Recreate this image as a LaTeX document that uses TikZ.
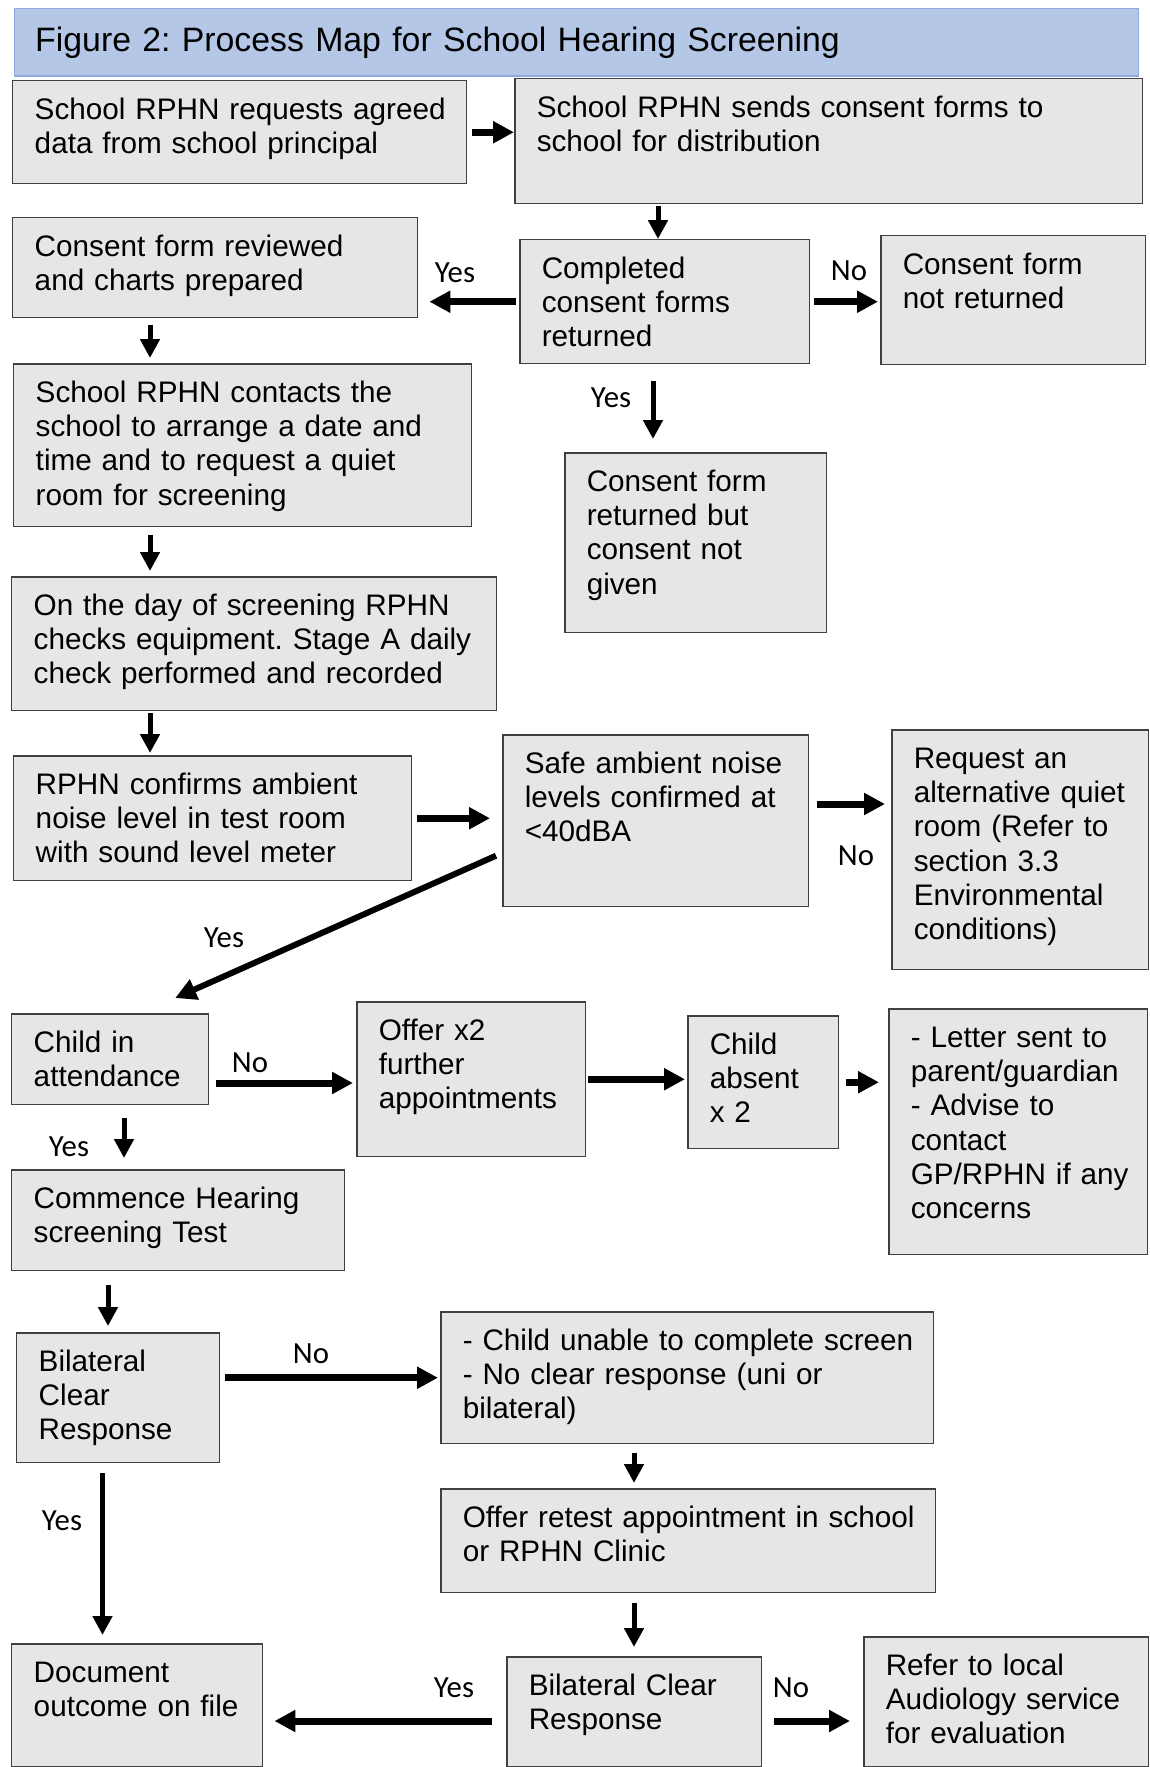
\documentclass[tikz,border=0pt]{standalone}
\usepackage{fontspec}
\setmainfont{Liberation Sans}
\newfontfamily\lblfont{Carlito}
\usetikzlibrary{arrows.meta}
\definecolor{titlefill}{HTML}{B4C7E7}
\definecolor{titleline}{HTML}{8FAADC}
\definecolor{boxfill}{HTML}{E6E6E6}
\definecolor{boxline}{HTML}{404040}
\frenchspacing

\begin{document}
\begin{tikzpicture}[
  x=0.02cm, y=-0.02cm,
  font=\fontsize{16.9}{19.5}\selectfont,
  proc/.style={draw=boxline, line width=0.03cm, fill=boxfill, anchor=north west,
    inner xsep=0.38cm, inner ysep=0.2cm, text height=0.57cm,
    execute at begin node={\raggedright\leftskip=0.06cm\rightskip=-0.3cm plus 2em}},
  lbl/.style={inner sep=0pt, font=\lblfont\fontsize{17.5}{19}\selectfont},
  varr/.style={line width=0.1cm, -{Triangle[length=0.38cm,width=0.38cm]}},
  harr/.style={line width=0.14cm, -{Triangle[length=0.42cm,width=0.42cm]}},
]
\useasboundingbox (0,0) rectangle (1149,1767);
\node[draw=titleline, line width=0.03cm, fill=titlefill, anchor=north west, align=left,
  inner xsep=0.42cm, inner ysep=0pt, text width=21.65cm, minimum height=1.35cm,
  font=\fontsize{19.25}{22}\selectfont] (title) at (13.5,8)
  {Figure 2: Process Map for School Hearing Screening};

% consent stage
\node[proc, text width=8.32cm, text depth=1.09cm] (req) at (12,80)
  {School RPHN requests agreed\\data from school principal};
\node[proc, text width=11.80cm, text depth=1.53cm] (sends) at (514,78)
  {School RPHN sends consent forms to\\school for distribution};
\node[proc, text width=7.34cm, text depth=1.03cm] (reviewed) at (12,217)
  {Consent form reviewed\\and charts prepared};
\node[proc, text width=5.04cm, text depth=1.51cm] (compl) at (519,239)
  {Completed\\consent forms\\returned};
\node[proc, text width=4.54cm, text depth=1.61cm] (notret) at (880,235)
  {Consent form\\not returned};
\node[proc, text width=8.40cm, text depth=2.29cm] (contacts) at (13,363)
  {School RPHN contacts the\\school to arrange a date and\\time and to request a quiet\\room for screening};
\node[proc, text width=4.48cm, text depth=2.63cm] (notgiven) at (564,452)
  {Consent form\\returned but\\consent not\\given};

% day of screening
\node[proc, text width=8.94cm, text depth=1.71cm] (day) at (11,576)
  {On the day of screening RPHN\\checks equipment. Stage A daily\\check performed and recorded};
\node[proc, text width=7.20cm, text depth=1.53cm] (confirms) at (13,755)
  {RPHN confirms ambient\\noise level in test room\\with sound level meter};
\node[proc, text width=5.36cm, text depth=2.47cm] (safe) at (502,734)
  {Safe ambient noise\\levels confirmed at\\<40dBA};
\node[proc, text width=4.38cm, text depth=3.83cm] (request) at (891,729)
  {Request an\\alternative quiet\\room (Refer to\\section 3.3\\Environmental\\conditions)};
\node[proc, text width=3.18cm, text depth=0.85cm] (attend) at (11,1013)
  {Child in\\attendance};
\node[proc, text width=3.82cm, text depth=2.13cm] (offer) at (356,1001)
  {Offer x2\\further\\appointments};
\node[proc, text width=2.26cm, text depth=1.69cm] (absent) at (687,1015)
  {Child\\absent\\x 2};
\node[proc, text width=4.42cm, text depth=3.95cm] (letter) at (888,1008)
  {- Letter sent to\\parent/guardian\\- Advise to\\contact\\GP/RPHN if any\\concerns};

% test and retest
\node[proc, text width=5.90cm, text depth=1.05cm] (commence) at (11,1169)
  {Commence Hearing\\screening Test};
\node[proc, text width=3.30cm, text depth=1.63cm] (bilat) at (16,1332)
  {Bilateral\\Clear\\Response};
\node[proc, text width=9.10cm, text depth=1.67cm] (unable) at (440,1311)
  {- Child unable to complete screen\\- No clear response (uni or\\bilateral)};
\node[proc, text width=9.14cm, text depth=1.11cm] (retest) at (440,1488)
  {Offer retest appointment in school\\or RPHN Clinic};
\node[proc, text width=4.26cm, text depth=1.49cm] (document) at (11,1643)
  {Document\\outcome on file};
\node[proc, text width=4.34cm, text depth=1.23cm] (bilattwo) at (506,1656)
  {Bilateral Clear\\Response};
\node[proc, text width=4.94cm, text depth=1.63cm] (refer) at (863,1636)
  {Refer to local\\Audiology service\\for evaluation};

% columns and rows for the connectors
\coordinate (cA) at (658,0);
\coordinate (cB) at (653,0);
\coordinate (cC) at (150,0);
\coordinate (cD) at (124,0);
\coordinate (cE) at (108,0);
\coordinate (cF) at (102.5,0);
\coordinate (cG) at (634,0);
\coordinate (rA) at (0,804);
\coordinate (rB) at (0,1083);
\coordinate (rC) at (0,1721);

\draw[harr, shorten <=0.1cm] (req.east) -- (req.east -| sends.west);
\draw[varr, shorten <=0.04cm] (cA |- sends.south) -- (cA |- compl.north);
\draw[harr, shorten <=0.06cm, shorten >=0.22cm] (compl.west) -- (compl.west -| reviewed.east);
\draw[harr, shorten <=0.08cm, shorten >=0.04cm] (compl.east) -- (compl.east -| notret.west);
\draw[varr, shorten <=0.34cm, shorten >=0.26cm] (cB |- compl.south) -- (cB |- notgiven.north);
\draw[varr, shorten <=0.14cm, shorten >=0.1cm] (cC |- reviewed.south) -- (cC |- contacts.north);
\draw[varr, shorten <=0.16cm, shorten >=0.1cm] (cC |- contacts.south) -- (cC |- day.north);
\draw[varr, shorten <=0.04cm, shorten >=0.04cm] (cC |- day.south) -- (cC |- confirms.north);
\draw[harr, shorten <=0.1cm, shorten >=0.24cm] (confirms.east) -- (confirms.east -| safe.west);
\draw[harr, shorten <=0.16cm, shorten >=0.12cm] (safe.east |- rA) -- (request.west |- rA);
\draw[harr, line width=0.12cm] ([xshift=-0.12cm, yshift=-0.7cm]safe.west) -- ([xshift=1.3cm, yshift=0.3cm]attend.north);
\draw[harr, shorten <=0.14cm, shorten >=0.06cm] (attend.east |- rB) -- (offer.west |- rB);
\draw[harr, shorten <=0.04cm, shorten >=0.04cm] (offer.east) -- (offer.east -| absent.west);
\draw[harr, shorten <=0.14cm, shorten >=0.18cm] (absent.east) -- (absent.east -| letter.west);
\draw[varr, shorten <=0.26cm, shorten >=0.22cm] (cD |- attend.south) -- (cD |- commence.north);
\draw[varr, shorten <=0.28cm, shorten >=0.12cm] (cE |- commence.south) -- (cE |- bilat.north);
\draw[harr, shorten <=0.1cm, shorten >=0.04cm] (unable.west -| bilat.east) -- (unable.west);
\draw[varr, shorten <=0.2cm, shorten >=0.16cm] (cF |- bilat.south) -- (cF |- document.north);
\draw[varr, shorten <=0.18cm, shorten >=0.1cm] (cG |- unable.south) -- (cG |- retest.north);
\draw[varr, shorten <=0.2cm, shorten >=0.18cm] (cG |- retest.south) -- (cG |- bilattwo.north);
\draw[harr, shorten <=0.28cm, shorten >=0.22cm] (bilattwo.west |- rC) -- (document.east |- rC);
\draw[harr, shorten <=0.24cm, shorten >=0.26cm] (bilattwo.east |- rC) -- (refer.west |- rC);

% yes / no labels
\node[lbl] (yesA) at (455,273) {Yes};
\node[lbl] (noA) at (849,271) {No};
\node[lbl] (yesB) at (611,398) {Yes};
\node[lbl] (noB) at (856,856) {No};
\node[lbl] (yesC) at (224,938) {Yes};
\node[lbl] (noC) at (250,1063) {No};
\node[lbl] (yesD) at (69,1147) {Yes};
\node[lbl] (noD) at (311,1354) {No};
\node[lbl] (yesE) at (62,1521) {Yes};
\node[lbl] (yesF) at (454,1688) {Yes};
\node[lbl] (noE) at (791,1688) {No};
\end{tikzpicture}
\end{document}
